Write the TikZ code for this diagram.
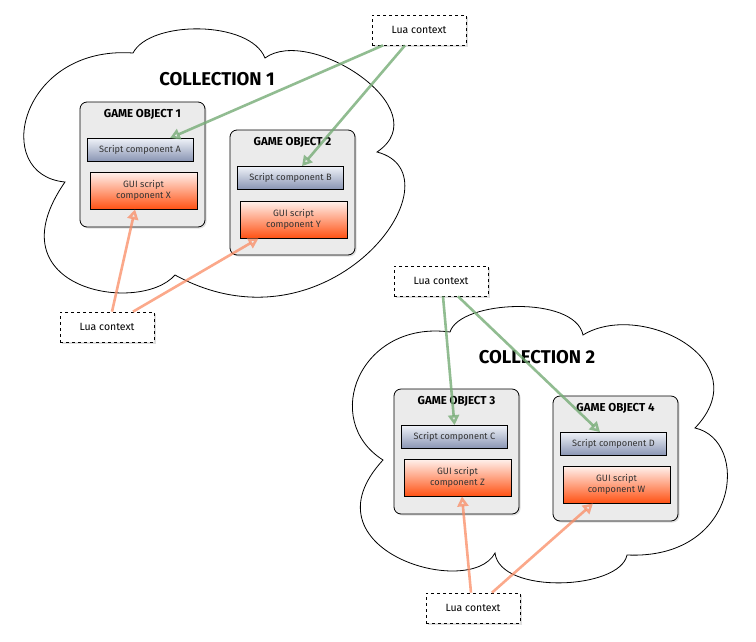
\documentclass[tikz,border=0pt]{standalone}
\usepackage{fontspec}
\setmainfont{Fira Sans}
\usetikzlibrary{arrows.meta,shadows}

\definecolor{goFill}{RGB}{235,235,235}
\definecolor{scriptTop}{RGB}{238,241,248}
\definecolor{scriptBot}{RGB}{136,148,178}
\definecolor{guiTop}{RGB}{255,242,238}
\definecolor{guiBot}{RGB}{255,82,20}
\definecolor{luaGreen}{RGB}{118,172,118}
\definecolor{luaOrange}{RGB}{250,140,100}

\tikzset{
  softshadow/.style={drop shadow={opacity=0.25, shadow xshift=1.5pt, shadow yshift=-1.5pt}},
  gobox/.style={draw, line width=0.8pt, rounded corners=7pt, fill=goFill, minimum width=125pt, minimum height=125pt, softshadow},
  gotitle/.style={font=\fontsize{11.5}{13}\selectfont\bfseries},
  coltitle/.style={font=\fontsize{18.5}{21}\selectfont\bfseries},
  scriptbox/.style={draw, line width=0.8pt, top color=scriptTop, bottom color=scriptBot, minimum width=106pt, minimum height=23pt, inner sep=1pt, text=black!80, font=\fontsize{9.2}{10.5}\selectfont},
  guibox/.style={draw, line width=0.8pt, top color=guiTop, bottom color=guiBot, minimum width=107pt, minimum height=37pt, inner sep=1pt, align=center, text=black!80, font=\fontsize{9.2}{11.5}\selectfont},
  luabox/.style={draw, dashed, line width=0.7pt, fill=white, minimum width=94pt, minimum height=30pt, font=\fontsize{10.5}{12}\selectfont, softshadow},
  greenarrow/.style={draw=luaGreen, line width=2.6pt, opacity=0.8, -{Triangle[open, length=10pt, width=11pt]}},
  orangearrow/.style={draw=luaOrange, line width=2.6pt, opacity=0.75, -{Triangle[open, length=10pt, width=11pt]}}
}

\begin{document}
\begin{tikzpicture}[x=1pt, y=-1pt]

\useasboundingbox (0,0) rectangle (756,641);

% the two collections
\draw[fill=white, line width=0.8pt] (65,182) .. controls (-10,175) and (20,45) .. (133,53)
  .. controls (150,20) and (250,20) .. (265,58)
  .. controls (310,25) and (440,110) .. (377,152)
  .. controls (465,175) and (330,360) .. (175,275)
  .. controls (140,315) and (-10,290) .. (65,182) -- cycle;
\draw[fill=white, line width=0.8pt] (383,460) .. controls (320,420) and (360,320) .. (450,332)
  .. controls (460,300) and (575,295) .. (583,335)
  .. controls (640,300) and (760,360) .. (695,428)
  .. controls (750,440) and (740,560) .. (627,555)
  .. controls (620,590) and (500,595) .. (495,553)
  .. controls (470,600) and (300,550) .. (383,460) -- cycle;

\node (col1) at (217,79) [coltitle] {COLLECTION 1};
\node (col2) at (537,357) [coltitle] {COLLECTION 2};

% game objects
\node (go1) at (142.5,164.5) [gobox] {};
\node (go2) at (292.5,192.5) [gobox] {};
\node (go3) at (456.5,451.5) [gobox] {};
\node (go4) at (615.5,458.5) [gobox] {};

\node (go1t) at ([yshift=-13pt]go1.north) [gotitle] {GAME OBJECT 1};
\node (go2t) at ([yshift=-13pt]go2.north) [gotitle] {GAME OBJECT 2};
\node (go3t) at ([yshift=-13pt]go3.north) [gotitle] {GAME OBJECT 3};
\node (go4t) at ([yshift=-13pt]go4.north) [gotitle] {GAME OBJECT 4};

% components
\node (scrA) at (140,150) [scriptbox] {Script component A};
\node (guiX) at (143.5,190.5) [guibox] {GUI script\\component X};
\node (scrB) at (290.5,178) [scriptbox] {Script component B};
\node (guiY) at (293.5,219.5) [guibox] {GUI script\\component Y};
\node (scrC) at (454.5,437) [scriptbox] {Script component C};
\node (guiZ) at (457.5,477.5) [guibox] {GUI script\\component Z};
\node (scrD) at (613.5,444) [scriptbox] {Script component D};
\node (guiW) at (616.5,484.5) [guibox] {GUI script\\component W};

% lua contexts
\node (lua1) at (419,30) [luabox] {Lua context};
\node (lua2) at (107,327) [luabox] {Lua context};
\node (lua3) at (441,281) [luabox] {Lua context};
\node (lua4) at (473,608) [luabox] {Lua context};

\draw[greenarrow] ([xshift=-36pt]lua1.south) -- ([xshift=30pt]scrA.north);
\draw[greenarrow] ([xshift=-14pt]lua1.south) -- ([xshift=11.5pt]scrB.north);
\draw[greenarrow] ([xshift=2pt]lua3.south) -- ([xshift=0pt]scrC.north);
\draw[greenarrow] ([xshift=17pt]lua3.south) -- ([xshift=-13.5pt]scrD.north);

\draw[orangearrow] ([xshift=5pt]lua2.north) -- ([xshift=-8.5pt]guiX.south);
\draw[orangearrow] ([xshift=26pt]lua2.north) -- ([xshift=-35pt]guiY.south);
\draw[orangearrow] ([xshift=-2pt]lua4.north) -- ([xshift=4.5pt]guiZ.south);
\draw[orangearrow] ([xshift=19pt]lua4.north) -- ([xshift=-23.5pt]guiW.south);
\end{tikzpicture}
\end{document}
